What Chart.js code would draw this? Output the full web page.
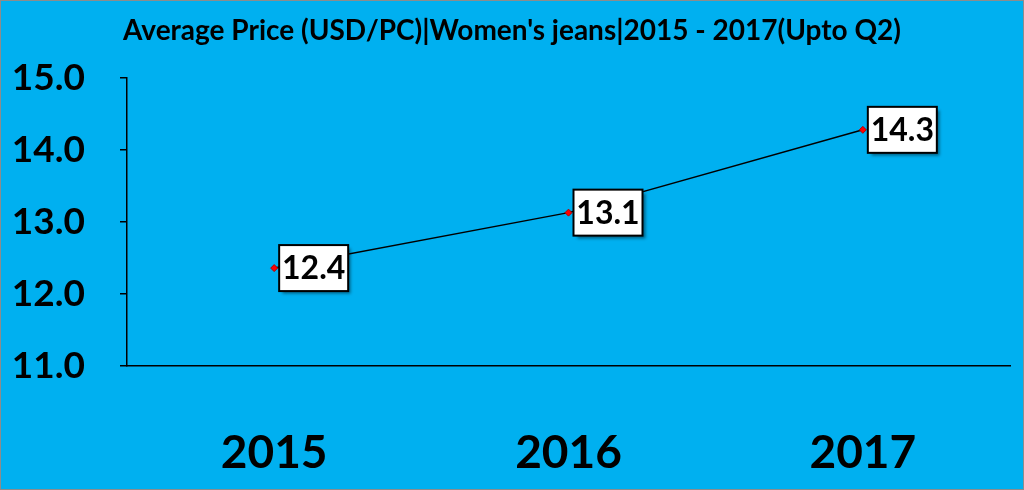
<!DOCTYPE html>
<html>
<head>
<meta charset="utf-8">
<script src="https://cdn.jsdelivr.net/npm/chart.js@4"></script>
<style>
  html, body { margin: 0; padding: 0; background: #00B0F0; }
  #wrap { width: 1024px; height: 490px; }
</style>
</head>
<body>
<div id="wrap"><canvas id="c"></canvas></div>
<script>
const years = ['2015', '2016', '2017'];
const avgPrice = [12.36, 13.13, 14.28];
const priceLabels = ['12.4', '13.1', '14.3'];
const yTicks = [11, 12, 13, 14, 15];

const titleText = "Average Price (USD/PC)|Women's jeans|2015 - 2017(Upto Q2)";
const fontFam = 'Lato, "Open Sans", sans-serif';

// frame, title and the boxed value labels
const decor = {
  id: 'decor',
  beforeDraw(chart) {
    const ctx = chart.ctx;
    ctx.save();
    ctx.fillStyle = '#00B0F0';
    ctx.fillRect(0, 0, chart.width, chart.height);
    ctx.strokeStyle = '#8c8c8c';
    ctx.lineWidth = 1;
    ctx.strokeRect(0.5, 0.5, chart.width - 1, chart.height - 1);
    ctx.fillStyle = '#000';
    ctx.font = 'bold 28px ' + fontFam;
    ctx.textAlign = 'center';
    ctx.textBaseline = 'middle';
    ctx.fillText(titleText, 512, 31);
    ctx.restore();
  },
  afterDatasetsDraw(chart) {
    const ctx = chart.ctx;
    const meta = chart.getDatasetMeta(0);
    ctx.save();
    ctx.font = 'bold 32px ' + fontFam;
    meta.data.forEach((pt, i) => {
      const txt = priceLabels[i];
      const w = 69, h = 46;
      const x = pt.x + 5, y = pt.y - h / 2;
      ctx.shadowColor = 'rgba(0,0,0,0.45)';
      ctx.shadowOffsetX = 3;
      ctx.shadowOffsetY = 3;
      ctx.shadowBlur = 3;
      ctx.fillStyle = '#fff';
      ctx.fillRect(x, y, w, h);
      ctx.shadowColor = 'transparent';
      ctx.strokeStyle = '#000';
      ctx.lineWidth = 2;
      ctx.strokeRect(x, y, w, h);
      ctx.fillStyle = '#000';
      ctx.textAlign = 'center';
      ctx.textBaseline = 'middle';
      ctx.fillText(txt, x + w / 2, y + h / 2 + 1);
    });
    ctx.restore();
  }
};

new Chart(document.getElementById('c'), {
  type: 'line',
  data: {
    labels: years,
    datasets: [{
      data: avgPrice,
      borderColor: '#000',
      borderWidth: 1.5,
      tension: 0,
      pointStyle: 'rectRot',
      pointRadius: 3.5,
      pointBackgroundColor: '#ff0000',
      pointBorderColor: '#b00000',
      pointBorderWidth: 1
    }]
  },
  options: {
    responsive: true,
    maintainAspectRatio: false,
    animation: false,
    layout: { padding: { top: 78, right: 14, left: 0, bottom: 0 } },
    plugins: {
      legend: { display: false },
      title: { display: false },
      tooltip: { enabled: false }
    },
    scales: {
      x: {
        offset: true,
        grid: { display: false },
        border: { display: true, color: '#000', width: 1.5 },
        ticks: {
          color: '#000',
          padding: 52,
          font: { family: fontFam, size: 46, weight: 'bold' }
        },
        afterFit(s) { s.height = 490 - 366; }
      },
      y: {
        min: 11,
        max: 15,
        afterBuildTicks(s) { s.ticks = yTicks.map(v => ({ value: v })); },
        grid: {
          drawOnChartArea: false,
          drawTicks: true,
          tickLength: 7,
          color: '#000',
          lineWidth: 1.5
        },
        border: { display: true, color: '#000', width: 1.5 },
        ticks: {
          color: '#000',
          padding: 35,
          callback: v => v.toFixed(1),
          font: { family: fontFam, size: 37, weight: 'bold' }
        },
        afterFit(s) { s.width = 127; }
      }
    }
  },
  plugins: [decor]
});
</script>
</body>
</html>
